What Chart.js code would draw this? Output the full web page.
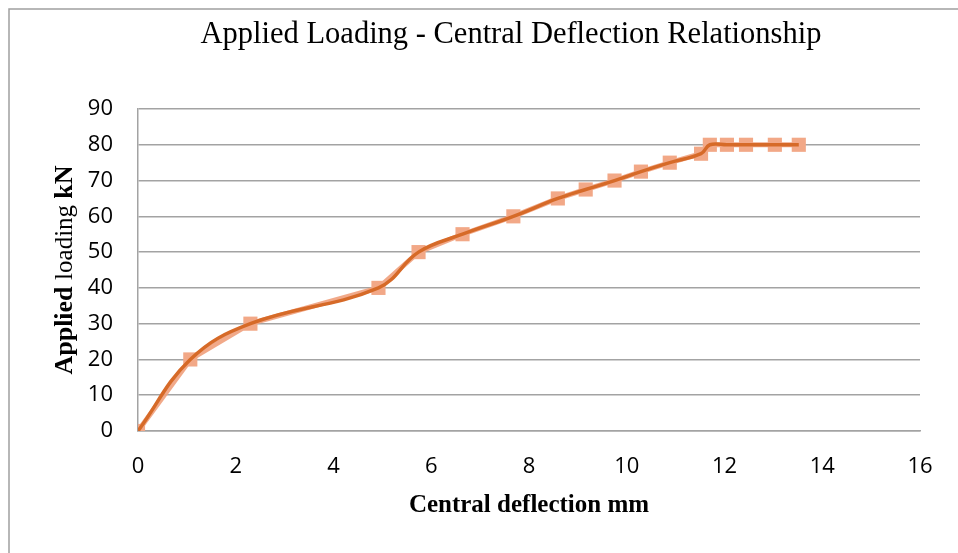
<!DOCTYPE html>
<html>
<head>
<meta charset="utf-8">
<script src="https://cdn.jsdelivr.net/npm/chart.js@4"></script>
<style>
  html, body { margin: 0; padding: 0; background: #fff; }
  #wrap { width: 958px; height: 553px; }
</style>
</head>
<body>
<div id="wrap"><canvas id="chart" width="958" height="553"></canvas></div>
<script>
// values
var deflection = [0, 1.07, 2.30, 4.92, 5.74, 6.64, 7.68, 8.59, 9.16, 9.75, 10.29, 10.88, 11.52, 11.70, 12.05, 12.44, 13.03, 13.52];
var loading    = [0, 20, 30, 40, 50, 55, 60, 65, 67.5, 70, 72.5, 75, 77.5, 80, 80, 80, 80, 80];
var xTicks = [0, 2, 4, 6, 8, 10, 12, 14, 16];
var yTicks = [0, 10, 20, 30, 40, 50, 60, 70, 80, 90];

var chartTitle = 'Applied Loading - Central Deflection Relationship';
var xTitle = 'Central deflection mm';
var yTitleParts = [['Applied ', 'bold'], ['loading ', 'normal'], ['kN', 'bold']];

var points = deflection.map(function (x, i) {
    return { x: x, y: loading[i] };
});

var serif = '"Liberation Serif", "DejaVu Serif", serif';
var sans = '"Open Sans", "Liberation Sans", sans-serif';
var gridGray = '#a3a3a3';

// white background + grey frame (only top and left edges show)
var framePlugin = {
    id: 'frame',
    beforeDraw: function (chart) {
        var ctx = chart.ctx;
        ctx.save();
        ctx.fillStyle = '#fff';
        ctx.fillRect(0, 0, chart.width, chart.height);
        ctx.strokeStyle = '#a0a0a0';
        ctx.lineWidth = 1.5;
        ctx.beginPath();
        ctx.moveTo(9, chart.height + 2);
        ctx.lineTo(9, 9);
        ctx.lineTo(chart.width + 2, 9);
        ctx.stroke();
        ctx.restore();
    }
};

// title sits a bit right of centre in the original, so draw it here
var titlePlugin = {
    id: 'bigTitle',
    afterDraw: function (chart) {
        var ctx = chart.ctx;
        ctx.save();
        ctx.font = 'normal 30.5px ' + serif;
        ctx.fillStyle = '#000';
        ctx.textAlign = 'center';
        ctx.textBaseline = 'alphabetic';
        ctx.fillText(chartTitle, 511, 43);
        ctx.restore();
    }
};

// y title with mixed bold / normal words
var yTitlePlugin = {
    id: 'yTitle',
    afterDraw: function (chart) {
        var ctx = chart.ctx;
        var area = chart.chartArea;
        var cy = (area.top + area.bottom) / 2;
        var fontOf = function (p) {
            return p[1] + ' ' + (p[1] === 'bold' ? 26 : 25) + 'px ' + serif;
        };
        ctx.save();
        var widths = yTitleParts.map(function (p) {
            ctx.font = fontOf(p);
            return ctx.measureText(p[0]).width;
        });
        var total = widths.reduce(function (a, b) { return a + b; }, 0);
        ctx.translate(65, cy);
        ctx.rotate(-Math.PI / 2);
        ctx.fillStyle = '#000';
        ctx.textBaseline = 'middle';
        ctx.textAlign = 'left';
        var x = -total / 2;
        yTitleParts.forEach(function (p, i) {
            ctx.font = fontOf(p);
            ctx.fillText(p[0], x, 0);
            x += widths[i];
        });
        ctx.restore();
    }
};

new Chart(document.getElementById('chart'), {
    type: 'scatter',
    data: {
        datasets: [{
            label: 'smooth',
            data: points,
            showLine: true,
            tension: 0.4,
            borderColor: 'rgb(214, 106, 40)',
            borderWidth: 3.5,
            pointRadius: 0,
            order: 0
        }, {
            label: 'markers',
            data: points,
            showLine: true,
            tension: 0,
            borderColor: 'rgba(240, 160, 124, 0.9)',
            borderWidth: 5,
            pointStyle: 'rect',
            pointRadius: 10,
            pointBorderWidth: 0,
            pointBackgroundColor: 'rgb(242, 168, 135)',
            order: 1
        }]
    },
    options: {
        responsive: false,
        animation: false,
        events: [],
        layout: { padding: { left: 0, right: 38, top: 109, bottom: 0 } },
        plugins: {
            legend: { display: false },
            tooltip: { enabled: false },
            title: { display: false }
        },
        scales: {
            x: {
                type: 'linear',
                min: 0,
                max: 16,
                afterBuildTicks: function (axis) {
                    axis.ticks = xTicks.map(function (v) { return { value: v }; });
                },
                afterFit: function (axis) { axis.height = 122; },
                grid: { display: false, drawTicks: false },
                border: { display: true, color: gridGray, width: 1.5 },
                ticks: { color: '#000', padding: 23, font: { family: sans, size: 22 } },
                title: {
                    display: true,
                    text: xTitle,
                    color: '#000',
                    font: { family: serif, size: 25, weight: 'bold' },
                    padding: { top: 0, bottom: 32 }
                }
            },
            y: {
                type: 'linear',
                min: 0,
                max: 90,
                afterBuildTicks: function (axis) {
                    axis.ticks = yTicks.map(function (v) { return { value: v }; });
                },
                afterFit: function (axis) { axis.width = 138; },
                grid: { color: gridGray, lineWidth: 1.5, drawTicks: false },
                border: { display: true, color: gridGray, width: 1.5 },
                ticks: { color: '#000', padding: 25, font: { family: sans, size: 22 } }
            }
        }
    },
    plugins: [framePlugin, titlePlugin, yTitlePlugin]
});
</script>
</body>
</html>
